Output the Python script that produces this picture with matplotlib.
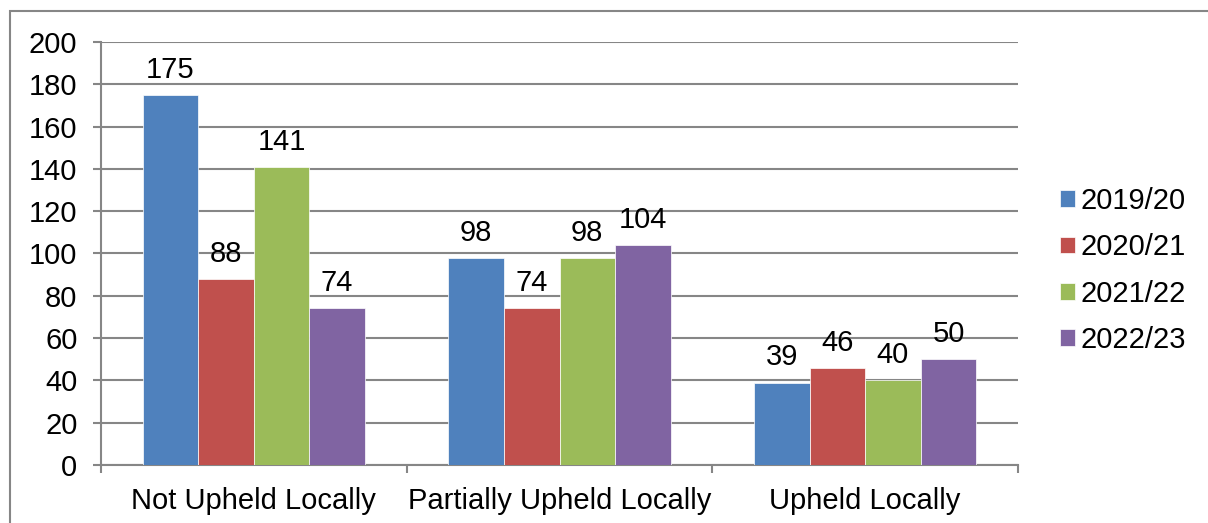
import matplotlib.pyplot as plt
import numpy as np
from matplotlib.patches import Rectangle

plt.rcParams['font.family'] = ['Liberation Sans', 'DejaVu Sans']

CATEGORIES = ['Not Upheld Locally', 'Partially Upheld Locally', 'Upheld Locally']
SERIES = ['2019/20', '2020/21', '2021/22', '2022/23']
VALUES = [
    [175, 98, 39],
    [88, 74, 46],
    [141, 98, 40],
    [74, 104, 50],
]
COLORS = ['#4F81BD', '#C0504D', '#9BBB59', '#8064A2']
FS = 21

fig = plt.figure(figsize=(12.08, 5.23), dpi=100)
ax = fig.add_axes([101/1208, 58/523, 917/1208, 423/523])

# outer chart border
fig.patches.append(Rectangle((10/1208, -0.01), 1.2, 1 - 11/523 + 0.01,
                             transform=fig.transFigure, fill=False,
                             edgecolor='#868686', linewidth=1.5))

x = np.arange(len(CATEGORIES))
w = 0.1817
for i, (name, vals) in enumerate(zip(SERIES, VALUES)):
    pos = x + (i - 1.5) * w
    bars = ax.bar(pos, vals, width=w, color=COLORS[i], label=name,
                  edgecolor='white', linewidth=0.5, zorder=3)
    for b, v in zip(bars, vals):
        ax.annotate(str(v), (b.get_x() + b.get_width() / 2, v),
                    xytext=(0, 8), textcoords='offset points',
                    ha='center', va='bottom', fontsize=FS, zorder=4)

ax.set_xlim(-0.5, 2.5)
ax.set_ylim(0, 200)
ax.set_yticks(range(0, 201, 20))
ax.yaxis.grid(True, color='#868686', linewidth=1.5, zorder=0)
ax.tick_params(axis='y', length=6, width=1.5, color='#868686',
               labelsize=FS, pad=11)

ax.set_xticks([-0.5, 0.5, 1.5, 2.5])
ax.set_xticklabels([])
ax.set_xticks(x, minor=True)
ax.set_xticklabels(CATEGORIES, minor=True, fontsize=FS)
ax.tick_params(axis='x', which='major', length=6, width=1.5, color='#868686')
ax.tick_params(axis='x', which='minor', length=0, pad=16)

for s in ['top', 'right']:
    ax.spines[s].set_visible(False)
for s in ['left', 'bottom']:
    ax.spines[s].set_color('#868686')
    ax.spines[s].set_linewidth(1.5)

ax.legend(loc='center left', bbox_to_anchor=(1.033, 0.46), frameon=False,
          fontsize=FS, handlelength=0.5, handleheight=0.5, borderaxespad=0,
          handletextpad=0.2, labelspacing=0.63)

fig.savefig('out.png', dpi=100)
